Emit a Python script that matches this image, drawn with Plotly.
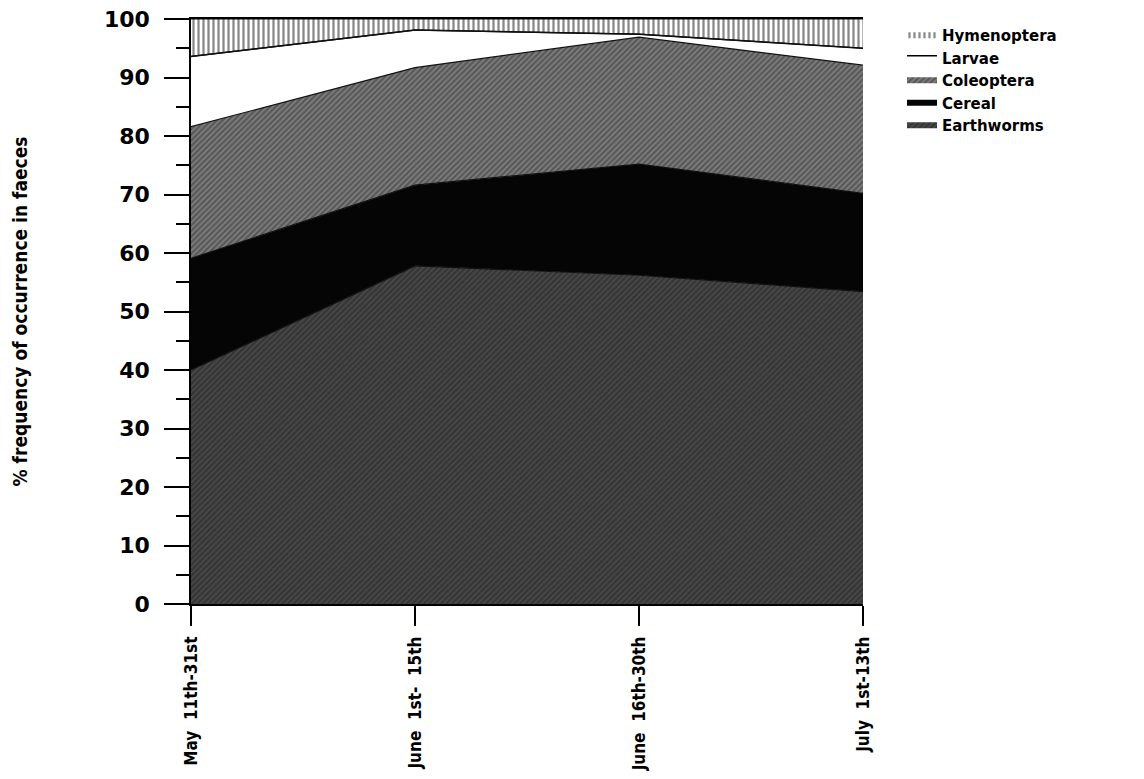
import plotly.graph_objects as go

periods = ["May  11th-31st", "June  1st-  15th", "June  16th-30th", "July  1st-13th"]
earthworms = [40.0, 57.8, 56.2, 53.4]
cereal = [19.1, 13.8, 19.0, 16.8]
coleoptera = [22.5, 20.1, 21.7, 21.9]
larvae = [12.0, 6.4, 0.5, 2.9]
hymenoptera = [6.4, 1.9, 2.6, 5.0]

xs = list(range(len(periods)))

series = [
    ("Earthworms", earthworms, dict(shape="/", bgcolor="#353535", fgcolor="#606060", size=4, solidity=0.4)),
    ("Cereal", cereal, dict(shape="", bgcolor="#050505", fgcolor="#050505")),
    ("Coleoptera", coleoptera, dict(shape="/", bgcolor="#575757", fgcolor="#a8a8a8", size=4, solidity=0.45)),
    ("Larvae", larvae, dict(shape="", bgcolor="white", fgcolor="white")),
    ("Hymenoptera", hymenoptera, dict(shape="|", bgcolor="white", fgcolor="#111111", size=5, solidity=0.45)),
]

fig = go.Figure()
for name, vals, pat in series:
    solid = pat["shape"] == ""
    white = pat["bgcolor"] == "white" and solid
    fig.add_trace(go.Scatter(
        x=xs, y=vals, name=name, stackgroup="fill",
        mode="lines" if white else "none",
        line=dict(color="black", width=1.5),
        fillcolor=pat["bgcolor"],
        fillpattern=None if solid else pat,
    ))
# boundary lines
for name, vals, pat in series:
    fig.add_trace(go.Scatter(
        x=xs, y=vals, stackgroup="edges", fill="none", mode="lines",
        line=dict(color="#111111", width=1.2), showlegend=False, hoverinfo="skip",
    ))

fig.update_layout(
    width=1144, height=779, autosize=False,
    margin=dict(l=191, r=281, t=19, b=175),
    plot_bgcolor="white", paper_bgcolor="white",
    showlegend=True,
    legend=dict(x=1.058, y=1.0, xanchor="left", yanchor="top",
                traceorder="reversed", itemwidth=30,
                font=dict(family="DejaVu Sans", size=15, color="black", weight="bold"),
                tracegroupgap=0, bgcolor="rgba(0,0,0,0)"),
    xaxis=dict(
        range=[0, 3], tickmode="array", tickvals=xs, ticktext=periods,
        tickangle=-90, ticks="outside", ticklen=20, tickwidth=1.5, tickcolor="black",
        showline=True, linecolor="black", linewidth=1.5, mirror=True,
        showgrid=False, zeroline=False, automargin=False,
        tickfont=dict(family="DejaVu Sans Condensed", size=17, color="black", weight="bold"),
        ticklabelstandoff=4,
    ),
    yaxis=dict(
        range=[0, 100], tickmode="linear", tick0=0, dtick=10,
        ticks="outside", ticklen=25, tickwidth=1.5, tickcolor="black",
        minor=dict(dtick=5, ticks="outside", ticklen=13, tickwidth=1.5, tickcolor="black", showgrid=False),
        showline=True, linecolor="black", linewidth=1.5,
        showgrid=False, zeroline=False, automargin=False,
        tickfont=dict(family="DejaVu Sans", size=22, color="black", weight="bold"),
        ticklabelstandoff=10,
        title=dict(text="% frequency of occurrence in faeces",
                   font=dict(family="DejaVu Sans Condensed", size=19, color="black", weight="bold"),
                   standoff=71),
    ),
)

fig.write_html("out.html", config={"displayModeBar": False},
               post_script="document.body.style.margin='0';")
